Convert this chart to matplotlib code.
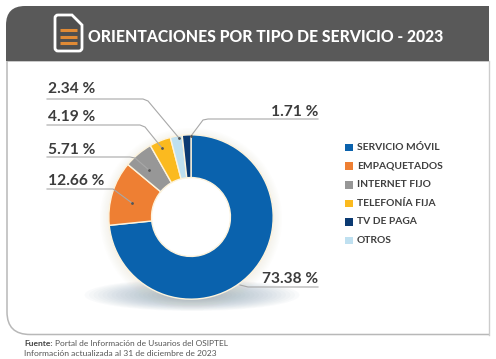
import numpy as np
import matplotlib.pyplot as plt
from matplotlib.patches import Circle, Ellipse, PathPatch, Rectangle
from matplotlib.path import Path

W, H = 496, 359

# data
categories = ["SERVICIO MÓVIL", "EMPAQUETADOS", "INTERNET FIJO", "TELEFONÍA FIJA", "TV DE PAGA", "OTROS"]
legend_colors = ["#0a62ad", "#ee7f33", "#979797", "#fbba1f", "#0b3a72", "#bfe0f0"]

# clockwise from 12 o'clock, the way the slices sit in the ring
ring_names = ["SERVICIO MÓVIL", "EMPAQUETADOS", "INTERNET FIJO", "TELEFONÍA FIJA", "OTROS", "TV DE PAGA"]
ring_values = [73.38, 12.66, 5.71, 4.19, 2.34, 1.71]
ring_labels = ["73.38 %", "12.66 %", "5.71 %", "4.19 %", "2.34 %", "1.71 %"]

title = "ORIENTACIONES POR TIPO DE SERVICIO - 2023"

plt.rcParams['font.family'] = ['Lato', 'DejaVu Sans']

fig = plt.figure(figsize=(W / 100, H / 100), dpi=100)
bg = fig.add_axes([0, 0, 1, 1])
bg.set_xlim(0, W)
bg.set_ylim(H, 0)
bg.axis("off")

# --- frame and header ---
frame = Path(
    [(489, 61), (7, 61), (7, 312), (7, 334.5), (30, 334.5), (489, 334.5)],
    [Path.MOVETO, Path.LINETO, Path.LINETO, Path.CURVE3, Path.CURVE3, Path.LINETO],
)
bg.add_patch(PathPatch(frame, fc="white", ec="#b8b8b8", lw=1.1, zorder=1))
bg.plot([489, 489], [61, 334.5], color="#cccccc", lw=1.0, zorder=1)
header = Path(
    [(6, 61), (6, 25), (6, 6), (25, 6), (489, 6), (489, 61), (6, 61)],
    [Path.MOVETO, Path.LINETO, Path.CURVE3, Path.CURVE3, Path.LINETO, Path.LINETO, Path.CLOSEPOLY],
)
bg.add_patch(PathPatch(header, fc="#595959", ec="none", zorder=2))

# document icon with the cut corner
icon = Path(
    [(55, 18), (55, 15), (58, 15), (72, 15), (82, 25), (82, 48), (82, 51), (79, 51),
     (58, 51), (55, 51), (55, 48), (55, 18)],
    [Path.MOVETO, Path.CURVE3, Path.CURVE3, Path.LINETO, Path.LINETO, Path.LINETO,
     Path.CURVE3, Path.CURVE3, Path.LINETO, Path.CURVE3, Path.CURVE3, Path.CLOSEPOLY],
)
bg.add_patch(PathPatch(icon, fc="#4f4f4f", ec="white", lw=2.0, zorder=3))
for y in [30, 36.5, 43]:
    bg.plot([60, 77], [y, y], color="#e08a35", lw=2.2, zorder=4, solid_capstyle="butt")
bg.text(88, 36.5, title, color="white", fontsize=11.3, fontweight="black", va="center", ha="left", zorder=4)

# --- soft shadow under the ring ---
for i in range(20):
    bg.add_patch(Ellipse((192, 295), 215 - 9 * i, 32 - 1.2 * i, fc="#5f7f99", ec="none", alpha=0.03, zorder=2))
for i in range(6):
    bg.add_patch(Circle((191, 219), 91 - 1.5 * i, fc="#e0d4bc", ec="none", alpha=0.04, zorder=2))

# --- donut ---
cx, cy, r = 191, 217, 83
ax = fig.add_axes([(cx - r) / W, 1 - (cy + r) / H, 2 * r / W, 2 * r / H])
color_for = dict(zip(categories, legend_colors))
ax.pie(ring_values, colors=[color_for[n] for n in ring_names], startangle=90, counterclock=False,
       radius=1.0, wedgeprops=dict(width=0.52, edgecolor="#fdf3dc", linewidth=1.0))
ax.add_patch(Circle((0, 0), 0.48, fc="white", ec="none", zorder=0.5))
ax.set_xlim(-1.01, 1.01)
ax.set_ylim(-1.01, 1.01)
ax.patch.set_alpha(0)

# --- leader lines and value labels ---
top = fig.add_axes([0, 0, 1, 1])
top.set_xlim(0, W)
top.set_ylim(H, 0)
top.axis("off")
top.patch.set_alpha(0)

leaders = [
    [(47, 99), (143, 99), (148, 101), (179, 138)],
    [(47, 125), (140, 125), (145, 127), (162, 148)],
    [(47, 157), (130, 157), (135, 158), (149, 170)],
    [(47, 189), (113, 189), (132, 203)],
    [(318, 119), (208, 119), (203, 120), (191, 136)],
    [(318, 287), (248, 287), (240, 285)],
]
label_pos = [(48, 89), (48, 117), (48, 150), (48, 181), (318, 112), (318, 279)]
label_ha = ["left", "left", "left", "left", "right", "right"]
order = [4, 3, 2, 1, 5, 0]  # index into ring_labels for each leader

for pts, pos, ha, k in zip(leaders, label_pos, label_ha, order):
    xs, ys = zip(*pts)
    top.plot(xs, ys, color="#a8a8a8", lw=0.8, zorder=5)
    if k != 0:
        top.plot(xs[-1], ys[-1], "o", ms=1.0, color="#555555", zorder=6)
    top.text(pos[0], pos[1], ring_labels[k], ha=ha, va="center", fontsize=11.2,
             fontweight="bold", color="#3c3c3c", zorder=6)

# --- legend ---
for i, (name, col) in enumerate(zip(categories, legend_colors)):
    y = 147.5 + i * 18.6
    top.add_patch(Rectangle((345, y - 3.7), 8, 7.5, fc=col, ec="none", zorder=6))
    top.text(357, y, name, ha="left", va="center", fontsize=7.4, fontweight="bold", color="#3f3f3f", zorder=6)

# --- source note ---
top.text(24, 343, "Fuente:", ha="left", va="center", fontsize=6.1, fontweight="bold", color="#444444")
top.text(55, 343, "Portal de Información de Usuarios del OSIPTEL", ha="left", va="center",
         fontsize=6.0, color="#555555")
top.text(24, 353, "Información actualizada al 31 de diciembre de 2023", ha="left", va="center",
         fontsize=6.1, color="#555555")

fig.savefig("out.png", dpi=100, facecolor="white")
